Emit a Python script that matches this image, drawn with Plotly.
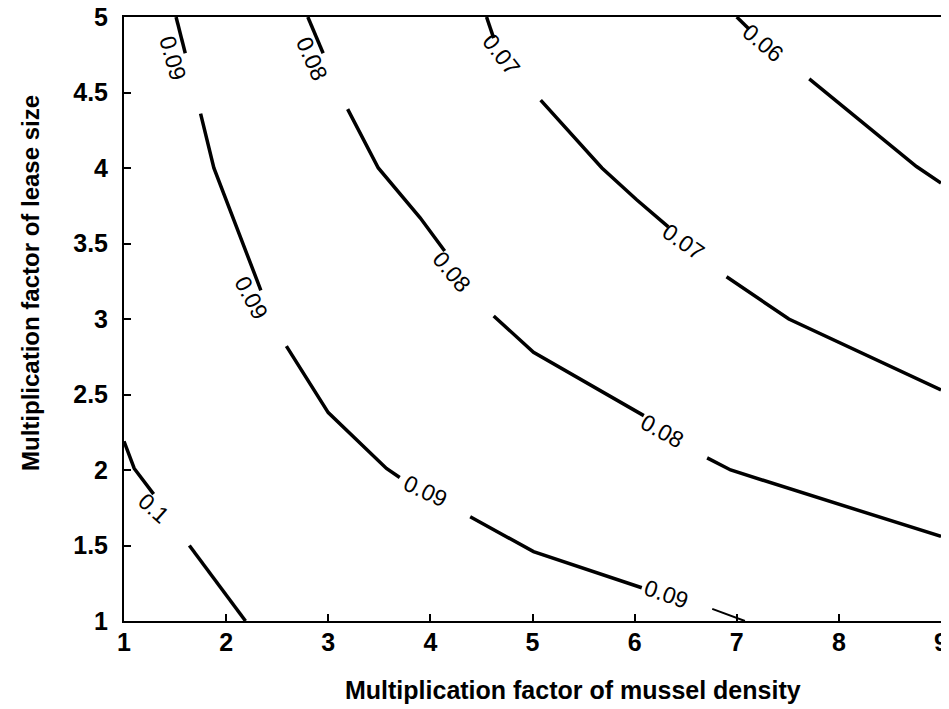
import plotly.graph_objects as go

# Contour lines (None = gap where a label sits)
c010_x = [1.00, 1.10, 1.29, None, 1.64, 2.19]
c010_y = [2.19, 2.01, 1.84, None, 1.50, 1.00]

c009a_x = [1.51, 1.60, None, 1.75, 1.88, 2.34, None, 2.59, 3.00, 3.57, 3.70, None, 4.39, 5.01, 6.07]
c009a_y = [5.00, 4.76, None, 4.36, 4.00, 3.19, None, 2.82, 2.38, 2.01, 1.95, None, 1.69, 1.46, 1.22]
c009b_x = [6.76, 7.08]
c009b_y = [1.08, 1.00]

c008_x = [2.80, 2.95, None, 3.19, 3.49, 3.90, 4.14, None, 4.62, 5.01, 6.09, None, 6.71, 6.94, 9.00]
c008_y = [5.00, 4.76, None, 4.39, 4.00, 3.67, 3.45, None, 3.02, 2.78, 2.36, None, 2.08, 2.00, 1.56]

c007_x = [4.55, 4.62, None, 5.08, 5.68, 6.02, 6.33, None, 6.90, 7.51, 9.00]
c007_y = [5.00, 4.86, None, 4.45, 4.00, 3.79, 3.61, None, 3.28, 3.00, 2.53]

c006_x = [7.00, 7.12, None, 7.71, 8.76, 9.00]
c006_y = [5.00, 4.92, None, 4.59, 4.01, 3.90]

# Contour labels
label_text = ["0.1", "0.09", "0.09", "0.09", "0.09", "0.08", "0.08", "0.08", "0.07", "0.07", "0.06"]
label_x = [1.29, 1.48, 2.25, 3.95, 6.31, 2.84, 4.21, 6.27, 4.70, 6.48, 7.26]
label_y = [1.75, 4.73, 3.14, 1.86, 1.18, 4.72, 3.31, 2.26, 4.75, 3.51, 4.83]
label_angle = [42, 74, 62, 25, 19, 66, 50, 29, 52, 35, 40]

x_ticks = [1, 2, 3, 4, 5, 6, 7, 8, 9]
y_ticks = [1, 1.5, 2, 2.5, 3, 3.5, 4, 4.5, 5]
y_tick_text = ["1", "1.5", "2", "2.5", "3", "3.5", "4", "4.5", "5"]

FONT = "Liberation Sans, Arial, Helvetica, sans-serif"

fig = go.Figure()
line_style = dict(color="black", width=3.5)
for xs, ys in [(c010_x, c010_y), (c009a_x, c009a_y), (c008_x, c008_y),
               (c007_x, c007_y), (c006_x, c006_y)]:
    fig.add_trace(go.Scatter(x=xs, y=ys, mode="lines", line=line_style,
                             connectgaps=False, showlegend=False, hoverinfo="skip"))
fig.add_trace(go.Scatter(x=c009b_x, y=c009b_y, mode="lines",
                         line=dict(color="black", width=2),
                         showlegend=False, hoverinfo="skip"))

for t, x, y, a in zip(label_text, label_x, label_y, label_angle):
    fig.add_annotation(x=x, y=y, text=t, textangle=a, showarrow=False,
                       font=dict(family=FONT, size=23, color="black"))

tick_font = dict(family=FONT, size=25, color="black", weight="bold")

fig.update_xaxes(range=[1, 9], tickvals=x_ticks, ticktext=[str(v) for v in x_ticks],
                 ticks="inside", ticklen=7, tickwidth=1.5, tickcolor="black",
                 showline=True, linecolor="black", linewidth=2, mirror=True,
                 showgrid=False, zeroline=False, tickfont=tick_font,
                 automargin=False, ticklabelstandoff=-2, ticklabeloverflow="allow")
fig.update_yaxes(range=[1, 5], tickvals=y_ticks, ticktext=y_tick_text,
                 ticks="inside", ticklen=7, tickwidth=1.5, tickcolor="black",
                 showline=True, linecolor="black", linewidth=2, mirror=True,
                 showgrid=False, zeroline=False, tickfont=tick_font,
                 automargin=False, ticklabelstandoff=9, ticklabeloverflow="allow")

# Axis titles
fig.add_annotation(xref="paper", yref="paper", x=(573 - 124) / 817, y=-(690 - 621) / 604,
                   text="Multiplication factor of mussel density", showarrow=False,
                   xanchor="center", yanchor="middle",
                   font=dict(family=FONT, size=25, color="black", weight="bold"))
fig.add_annotation(xref="paper", yref="paper", x=-(124 - 30) / 817, y=(621 - 283) / 604,
                   text="Multiplication factor of lease size", showarrow=False, textangle=-90,
                   xanchor="center", yanchor="middle",
                   font=dict(family=FONT, size=24, color="black", weight="bold"))

# The page body adds an 8px offset; margins compensate so the axes land where they do in the reference
fig.update_layout(width=949, height=709, margin=dict(l=116, r=16, t=9, b=96),
                  plot_bgcolor="white", paper_bgcolor="white")

fig.write_html("out.html")
